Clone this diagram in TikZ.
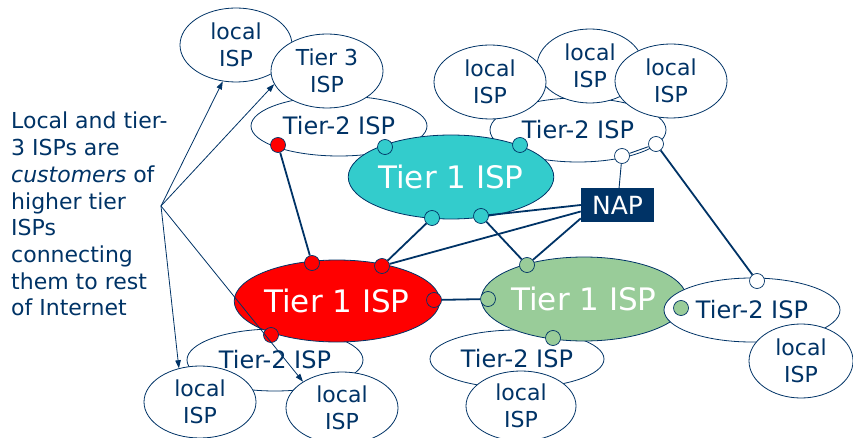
\documentclass[tikz,border=0pt]{standalone}
\usepackage{fontspec}
\setmainfont{DejaVu Sans}
\usetikzlibrary{shapes.geometric,arrows.meta}
\definecolor{navy}{RGB}{0,51,102}
\definecolor{tcyan}{RGB}{51,204,204}
\definecolor{tgreen}{RGB}{153,204,153}
\begin{document}
\begin{tikzpicture}[x=1pt,y=-1pt,
  isp/.style={ellipse,draw=navy,line width=0.8pt,fill=white,inner sep=0pt,text=navy,align=center,
    font=\fontsize{22}{27}\selectfont},
  loc/.style={isp,minimum width=112pt,minimum height=74pt},
  tiertwo/.style={isp,font=\fontsize{24}{28}\selectfont},
  tierone/.style={ellipse,draw=navy,line width=0.8pt,inner sep=0pt,text=white,
    font=\fontsize{31}{36}\selectfont},
  dot/.style={circle,draw=navy,line width=0.7pt,minimum size=15pt,inner sep=0pt},
  link/.style={draw=navy,line width=1.8pt},
  thin/.style={draw=navy,line width=0.9pt},
  arr/.style={draw=navy,line width=0.8pt,-{Triangle[length=8pt,width=5.5pt]}}]
\useasboundingbox (0,0) rectangle (853,438);
% tier-2 ellipses (lower layer)
\node[tiertwo,minimum width=176pt,minimum height=60pt] (t2a) at (339,126) {Tier-2 ISP};
\node[tiertwo,minimum width=176pt,minimum height=64pt] (t2b) at (578,130) {Tier-2 ISP};
\node[tiertwo,minimum width=176pt,minimum height=62pt] (t2c) at (275,360) {Tier-2 ISP};
\node[tiertwo,minimum width=174pt,minimum height=58pt] (t2d) at (517,359) {Tier-2 ISP};
% local ISPs
\node[loc] (la) at (236,45) {local\\ISP};
\node[loc] (t3) at (327,71) {Tier 3\\ISP};
\node[loc,minimum width=106pt] (lm) at (590,66) {local\\ISP};
\node[loc] (ll) at (490,82) {local\\ISP};
\node[loc] (lr) at (671,81) {local\\ISP};
\node[loc,minimum height=72pt] (lba) at (200,402) {local\\ISP};
\node[loc,minimum height=72pt] (lbb) at (342,408) {local\\ISP};
\node[loc,minimum width=110pt,minimum height=70pt] (lbc) at (521,406) {local\\ISP};
% tier-1 ellipses
\node[tierone,fill=tcyan,minimum width=196pt,minimum height=84pt] (c) at (451,177) {Tier 1 ISP};
\node[tierone,fill=red,minimum width=198pt,minimum height=82pt] (r) at (337,301) {Tier 1 ISP};
\node[tierone,fill=tgreen,minimum width=196pt,minimum height=84pt] (g) at (584,299) {Tier 1 ISP};
% right tier-2 over green
\node[tiertwo,minimum width=176pt,minimum height=64pt] (t2e) at (752,310) {Tier-2 ISP};
\node[loc,minimum width=104pt] (lre) at (801,361) {local\\ISP};
% NAP
\node[fill=navy,text=white,minimum width=73pt,minimum height=34pt,inner sep=0pt,
  font=\fontsize{25}{28}\selectfont] (nap) at (617.5,205) {NAP};
% dots
\node[dot,fill=red] (r1) at (278,145) {};
\node[dot,fill=red] (r2) at (312,263) {};
\node[dot,fill=red] (r3) at (382,266) {};
\node[dot,fill=red] (r4) at (434,300) {};
\node[dot,fill=red] (r5) at (271,335) {};
\node[dot,fill=tcyan] (c1) at (385,147) {};
\node[dot,fill=tcyan] (c2) at (520,145) {};
\node[dot,fill=tcyan] (c3) at (432,218) {};
\node[dot,fill=tcyan] (c4) at (481,216) {};
\node[dot,fill=tgreen] (g1) at (527,265) {};
\node[dot,fill=tgreen] (g2) at (488,299) {};
\node[dot,fill=tgreen] (g3) at (553,338) {};
\node[dot,fill=tgreen] (g4) at (681,308) {};
\node[dot,fill=white] (w1) at (622,156) {};
\node[dot,fill=white] (w2) at (656,144) {};
\node[dot,fill=white] (w3) at (757,281) {};
% links
\draw[link] (r1) -- (r2);
\draw[link] (c3) -- (r3);
\draw[link] (c4) -- (g1);
\draw[link] (r4) -- (g2);
\draw[link] (nap.west) -- (c4);
\draw[link] (nap.190) -- (r3);
\draw[link] (nap.200) -- (g1);
\draw[thin] (w1) -- (nap);
\draw[thin] (w1) -- (w2);
\draw[link] (w2) -- (w3);
% left text
\node[anchor=north west,inner sep=0pt,align=left,text=navy,
  font=\fontsize{22}{26.7}\selectfont] (txt) at (11,112)
  {Local and tier-\\3 ISPs are\\\textit{customers} of\\higher tier\\ISPs\\connecting\\them to rest\\of Internet};
\coordinate (src) at (161,206);
\draw[arr] (src) -- (la.250);
\draw[arr] (src) -- (t3.194);
\draw[arr] (src) -- (lba.122);
\draw[arr] (src) -- (lbb.146);
\end{tikzpicture}
\end{document}
